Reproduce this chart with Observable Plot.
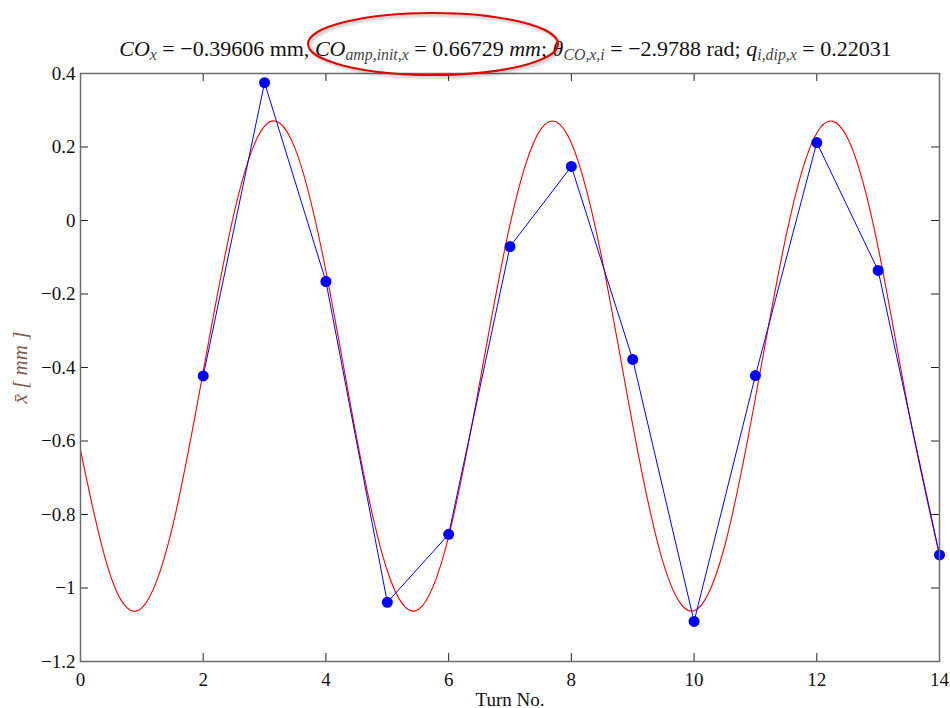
<!DOCTYPE html>
<html><head><meta charset="utf-8">
<script src="https://cdn.jsdelivr.net/npm/d3@7"></script>
<script src="https://cdn.jsdelivr.net/npm/@observablehq/plot@0.6"></script>
<style>
body{margin:0;background:#fff;}
#wrap{position:relative;width:950px;height:708px;overflow:hidden;}
#title{position:absolute;left:0;top:39px;width:1011px;text-align:center;font-family:"Liberation Serif","Times New Roman","DejaVu Serif",serif;font-size:22px;line-height:20px;color:#111;white-space:nowrap;}
#title sub{font-size:0.72em;line-height:0;vertical-align:-0.28em;color:#444;}
#ann{position:absolute;left:0;top:0;}
</style>
</head><body>
<div id="wrap">
<div id="chart"></div>
<div id="title"><i>CO</i><sub><i>x</i></sub> = −0.39606 mm, <i>CO</i><sub><i>amp,init,x</i></sub> = 0.66729 <i>mm</i>; <i>θ</i><sub><i>CO,x,i</i></sub> = −2.9788 rad; <i>q</i><sub><i>i,dip,x</i></sub> = 0.22031</div>
<svg id="ann" width="950" height="708"><defs><filter id="sh" x="-20%" y="-30%" width="140%" height="160%"><feDropShadow dx="2" dy="2" stdDeviation="1.5" flood-color="#000" flood-opacity="0.3"/></filter></defs><ellipse cx="433" cy="44" rx="125" ry="31" fill="none" stroke="#e00000" stroke-width="2" filter="url(#sh)"/></svg>
</div>
<script>
// measured turns (blue)
const turns = [2,3,4,5,6,7,8,9,10,11,12,13,14];
const xbar = [-0.423,0.375,-0.166,-1.039,-0.854,-0.071,0.147,-0.378,-1.091,-0.422,0.212,-0.136,-0.910];
// fitted curve (red), every half turn
const fitTurn = [0,0.5,1,1.5,2,2.5,3,3.5,4,4.5,5,5.5,6,6.5,7,7.5,8,8.5,9,9.5,10,10.5,11,11.5,12,12.5,13,13.5,14];
const fitX = [-0.625,-0.972,-1.054,-0.833,-0.411,0.018,0.257,0.195,-0.138,-0.591,-0.953,-1.059,-0.860,-0.447,-0.011,0.248,0.211,-0.105,-0.556,-0.933,-1.062,-0.885,-0.483,-0.041,0.238,0.225,-0.073,-0.521,-0.911];
const xTicks = [0,2,4,6,8,10,12,14];
const yTicks = [-1.2,-1,-0.8,-0.6,-0.4,-0.2,0,0.2,0.4];

const W = 950, H = 708, mL = 80, mR = 11, mT = 73, mB = 47;
const fw = W - mL - mR, fh = H - mT - mB;
const pts = turns.map((t,i)=>({t, v: xbar[i]}));
const fit = fitTurn.map((t,i)=>({t, v: fitX[i]}));
const fmt = d => d3.format("")(d).replace("-", "−");
const serif = "'Liberation Serif', 'Times New Roman', 'DejaVu Serif', serif";

const plot = Plot.plot({
  width: W, height: H,
  marginLeft: mL, marginRight: mR, marginTop: mT, marginBottom: mB,
  style: {fontFamily: serif, fontSize: "19px", color: "#111", background: "#fff"},
  x: {domain: [0,14]},
  y: {domain: [-1.2,0.4]},
  marks: [
    Plot.tickX(xTicks, {x: d=>d, insetTop: fh-8, stroke: "#222"}),
    Plot.tickX(xTicks, {x: d=>d, insetBottom: fh-8, stroke: "#222"}),
    Plot.tickY(yTicks, {y: d=>d, insetRight: fw-8, stroke: "#222"}),
    Plot.tickY(yTicks, {y: d=>d, insetLeft: fw-8, stroke: "#222"}),
    Plot.line(fit, {x: "t", y: "v", stroke: "#ff0000", strokeWidth: 1.1, curve: "natural", clip: true}),
    Plot.line(pts, {x: "t", y: "v", stroke: "#0000ff", strokeWidth: 1}),
    Plot.dot(pts, {x: "t", y: "v", r: 5.5, fill: "#0000ff"}),
    Plot.frame({stroke: "#6b6b6b", strokeWidth: 1.5}),
    Plot.axisX({ticks: xTicks, tickSize: 0, tickPadding: 11, tickFormat: fmt, label: null, fontFamily: serif}),
    Plot.axisY({ticks: yTicks, tickSize: 0, tickPadding: 5, tickFormat: fmt, label: null, fontFamily: serif}),
    Plot.text(["Turn No."], {frameAnchor: "bottom", dy: 44, text: d=>d, fontSize: 19, fontFamily: serif}),
    Plot.text(["x̄ [ mm ]"], {frameAnchor: "left", dx: -60, rotate: -90, textAnchor: "middle", text: d=>d, fontSize: 21, fontStyle: "italic", fontFamily: serif, fill: "#7b5b4b", style: "letter-spacing:1.5px"})
  ]
});
document.getElementById("chart").appendChild(plot);
</script>
</body></html>
